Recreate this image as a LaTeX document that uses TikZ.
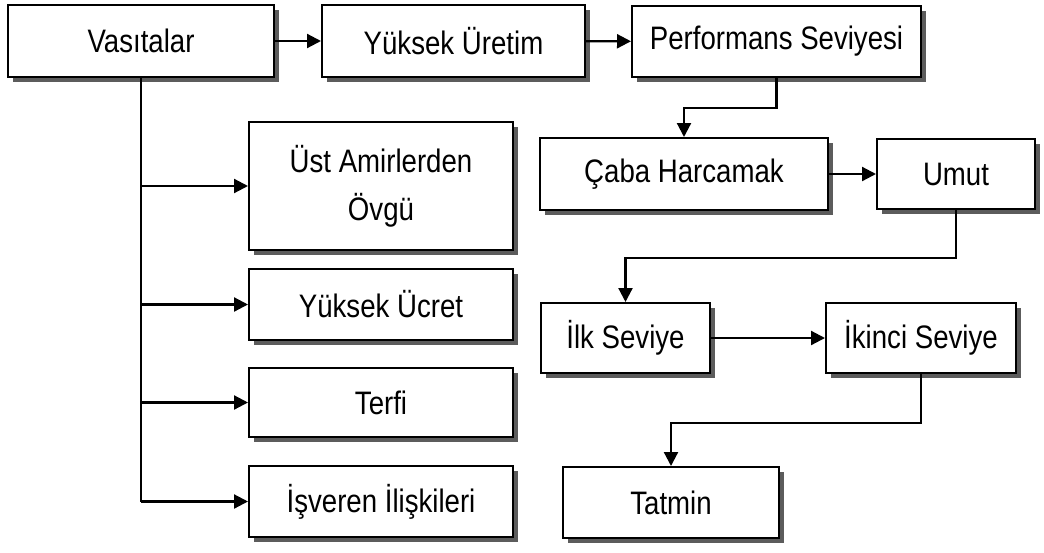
\documentclass[tikz,border=0pt]{standalone}
\usepackage{fontspec}
\setmainfont[FakeStretch=0.85]{Liberation Sans}
\usetikzlibrary{arrows.meta,shadows}
\begin{document}
\begin{tikzpicture}[x=1pt,y=-1pt,
  boxnode/.style={draw=black,line width=2pt,fill=white,inner sep=0pt,
    align=center,font=\fontsize{32.5}{48}\selectfont,
    drop shadow={shadow xshift=5pt,shadow yshift=-5pt,fill=black!75,opacity=0.85}},
  conn/.style={line width=2.2pt,draw=black},
  arr/.style={conn,-{Triangle[length=14pt,width=14pt]}}]
\useasboundingbox (0,0) rectangle (1044,552);
\node[boxnode,minimum width=266pt,minimum height=72pt] (vas) at (141,41) {Vasıtalar};
\node[boxnode,minimum width=263pt,minimum height=72pt] (yu) at (453.5,41) {Yüksek Üretim};
\node[boxnode,minimum width=289pt,minimum height=71pt] (perf) at (776.5,41.5) {Performans Seviyesi};
\node[boxnode,minimum width=288pt,minimum height=72pt] (caba) at (684,174) {Çaba Harcamak};
\node[boxnode,minimum width=158pt,minimum height=70pt] (umut) at (956,174) {Umut};
\node[boxnode,minimum width=264pt,minimum height=128pt] (ust) at (381,186) {Üst Amirlerden\\Övgü};
\node[boxnode,minimum width=264pt,minimum height=71pt] (ucret) at (381,304.5) {Yüksek Ücret};
\node[boxnode,minimum width=264pt,minimum height=69pt] (terfi) at (381,402.5) {Terfi};
\node[boxnode,minimum width=264pt,minimum height=71pt] (isv) at (381,501.5) {İşveren İlişkileri};
\node[boxnode,minimum width=169pt,minimum height=70pt] (ilk) at (625.5,338) {İlk Seviye};
\node[boxnode,minimum width=190pt,minimum height=70pt] (iki) at (921,338) {İkinci Seviye};
\node[boxnode,minimum width=216pt,minimum height=71pt] (tat) at (671,502.5) {Tatmin};
\draw[arr] (vas) -- (yu);
\draw[arr] (yu) -- (perf);
\draw[arr] (perf.south) -- ++(0,30) -| (caba.north);
\draw[arr] (caba) -- (umut);
\draw[arr] (umut.south) -- ++(0,48) -| (ilk.north);
\draw[arr] (ilk) -- (iki);
\draw[arr] (iki.south) -- ++(0,49) -| (tat.north);
\draw[conn] (vas.south) -- (vas.south |- isv.west);
\draw[arr] (vas.south |- ust.west) -- (ust.west);
\draw[arr] (vas.south |- ucret.west) -- (ucret.west);
\draw[arr] (vas.south |- terfi.west) -- (terfi.west);
\draw[arr] (vas.south |- isv.west) -- (isv.west);
\end{tikzpicture}
\end{document}
